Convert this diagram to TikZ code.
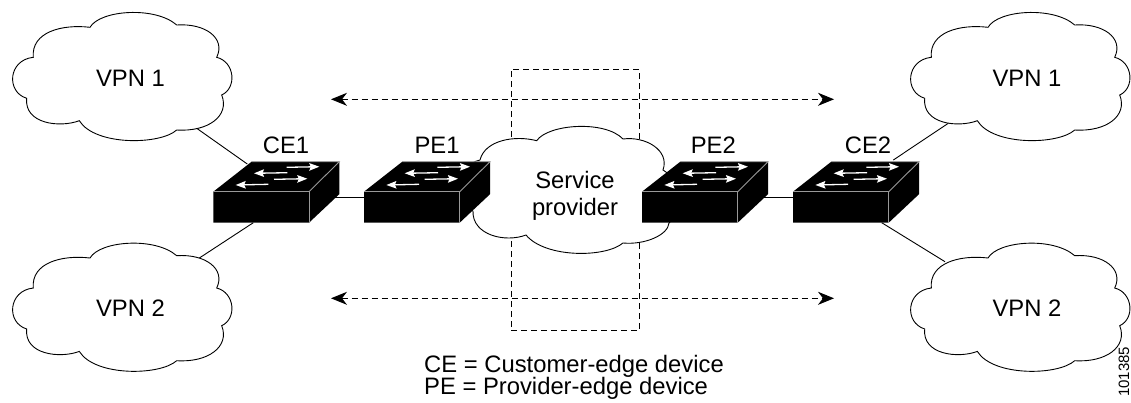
\documentclass[tikz,border=0pt]{standalone}
\usepackage{fontspec}
\setmainfont{Liberation Sans}
\usetikzlibrary{arrows.meta,calc}
\tikzset{
  cloudline/.style={draw=black,fill=white,line width=0.9pt},
  link/.style={draw=black,line width=0.9pt},
  guide/.style={draw=black,line width=0.9pt,dash pattern=on 6pt off 4pt},
  guidearrow/.style={guide,{Stealth[length=16pt,width=13pt,inset=5pt]}-{Stealth[length=16pt,width=13pt,inset=5pt]}},
  lab/.style={font=\fontsize{23.8}{28}\selectfont,inner sep=0pt,anchor=base},
  swarrow/.style={draw=white,line width=1.3pt,-{Stealth[length=10pt,width=7.5pt,inset=1.5pt]}},
  swedge/.style={draw=black!40,line width=0.9pt},
  pics/cloudshape/.style={code={
    \draw[cloudline] (33.3,57.3)
      .. controls (31,32) and (62,24) .. (90,27.3)
      .. controls (100,10) and (155,6) .. (176.7,25)
      .. controls (205,23) and (226,38) .. (216.7,57.3)
      .. controls (235,62) and (237,88) .. (221.7,95)
      .. controls (230,116) and (208,132) .. (176.7,130)
      .. controls (160,145) and (95,146) .. (79.3,120.7)
      .. controls (60,128) and (24,124) .. (26.7,98.3)
      .. controls (6,92) and (8,60) .. (33.3,57.3) -- cycle;
  }},
  pics/switchshape/.style={code={
    \fill[black] (0,0) -- (38.3,-30) -- (126,-30) -- (126,2.5) -- (95.7,31) -- (0,31) -- cycle;
    \draw[swedge] (0,0) -- (95.7,0) -- (95.7,31);
    \draw[swedge] (95.7,0) -- (126,-30) -- (38.3,-30);
    \draw[swarrow] (73.4,-24.4) -- (106,-25);
    \draw[swarrow] (74,-19) -- (40.7,-18.4);
    \draw[swarrow] (60.7,-12.4) -- (94,-13);
    \draw[swarrow] (55,-7.4) -- (22.4,-6.7);
  }}
}
\begin{document}
\begin{tikzpicture}[x=1pt,y=-1pt]
\useasboundingbox (0,0) rectangle (1131,402);
% guides
\node[minimum width=128pt,minimum height=261.7pt,inner sep=0pt,guide] (box) at (575,199.8) {};
\coordinate (ta) at (331,99.3); \coordinate (tb) at (834,99.3);
\coordinate (ba) at (331,298.3); \coordinate (bb) at (834,298.3);
\draw[guidearrow] (ta) -- (tb);
\draw[guidearrow] (ba) -- (bb);
% connector ends
\coordinate (v1l) at (196.7,128.3); \coordinate (c1t) at (247.3,164);
\coordinate (v2l) at (198.3,258.7); \coordinate (c1b) at (253.3,222.7);
\coordinate (c1r) at (333,197); \coordinate (p1l) at (364,197);
\coordinate (p2r) at (763,197); \coordinate (c2l) at (793,197);
\coordinate (v1r) at (948.3,123.3); \coordinate (c2t) at (893.3,160);
\coordinate (v2r) at (945,261.7); \coordinate (c2b) at (881.7,222.7);
\draw[link] (v1l) -- (c1t);
\draw[link] (v2l) -- (c1b);
\draw[link] (c1r) -- (p1l);
\draw[link] (p2r) -- (c2l);
\draw[link] (v1r) -- (c2t);
\draw[link] (v2r) -- (c2b);
% clouds
\pic at (0,0) {cloudshape};
\pic at (0,230.7) {cloudshape};
\pic at (898,0) {cloudshape};
\pic at (898,230.7) {cloudshape};
\draw[cloudline] (480,160)
  .. controls (485,140) and (515,135) .. (536.7,140.7)
  .. controls (548,124) and (605,120) .. (623,139)
  .. controls (645,136) and (670,150) .. (663,170)
  .. controls (680,180) and (685,210) .. (669,223)
  .. controls (668,235) and (645,245) .. (623,243)
  .. controls (605,258) and (545,258) .. (526,235)
  .. controls (505,243) and (472,235) .. (473,211)
  .. controls (455,205) and (455,165) .. (480,160) -- cycle;
% switches
\pic at (213.3,191.7) {switchshape};
\pic at (364,191.7) {switchshape};
\pic at (642,191.7) {switchshape};
\pic at (793,191.7) {switchshape};
% labels
\node[lab] (tv1l) at (130.5,86) {VPN 1};
\node[lab] (tv2l) at (130.5,316.7) {VPN 2};
\node[lab] (tv1r) at (1027,86) {VPN 1};
\node[lab] (tv2r) at (1027,316.7) {VPN 2};
\node[lab] (tc1) at (286,153.3) {CE1};
\node[lab] (tp1) at (437,153.3) {PE1};
\node[lab] (tp2) at (713.3,153.3) {PE2};
\node[lab] (tc2) at (868,153.3) {CE2};
\node[lab] (ts1) at (575,188) {Service};
\node[lab] (ts2) at (575,215.5) {provider};
\node[lab,anchor=base west] (k1) at (424,372.5) {CE = Customer-edge device};
\node[lab,anchor=base west] (k2) at (424,394.5) {PE = Provider-edge device};
\node[font=\fontsize{15}{18}\selectfont,inner sep=0pt,rotate=90,anchor=base west] (num) at (1129,397) {101385};
\end{tikzpicture}
\end{document}
